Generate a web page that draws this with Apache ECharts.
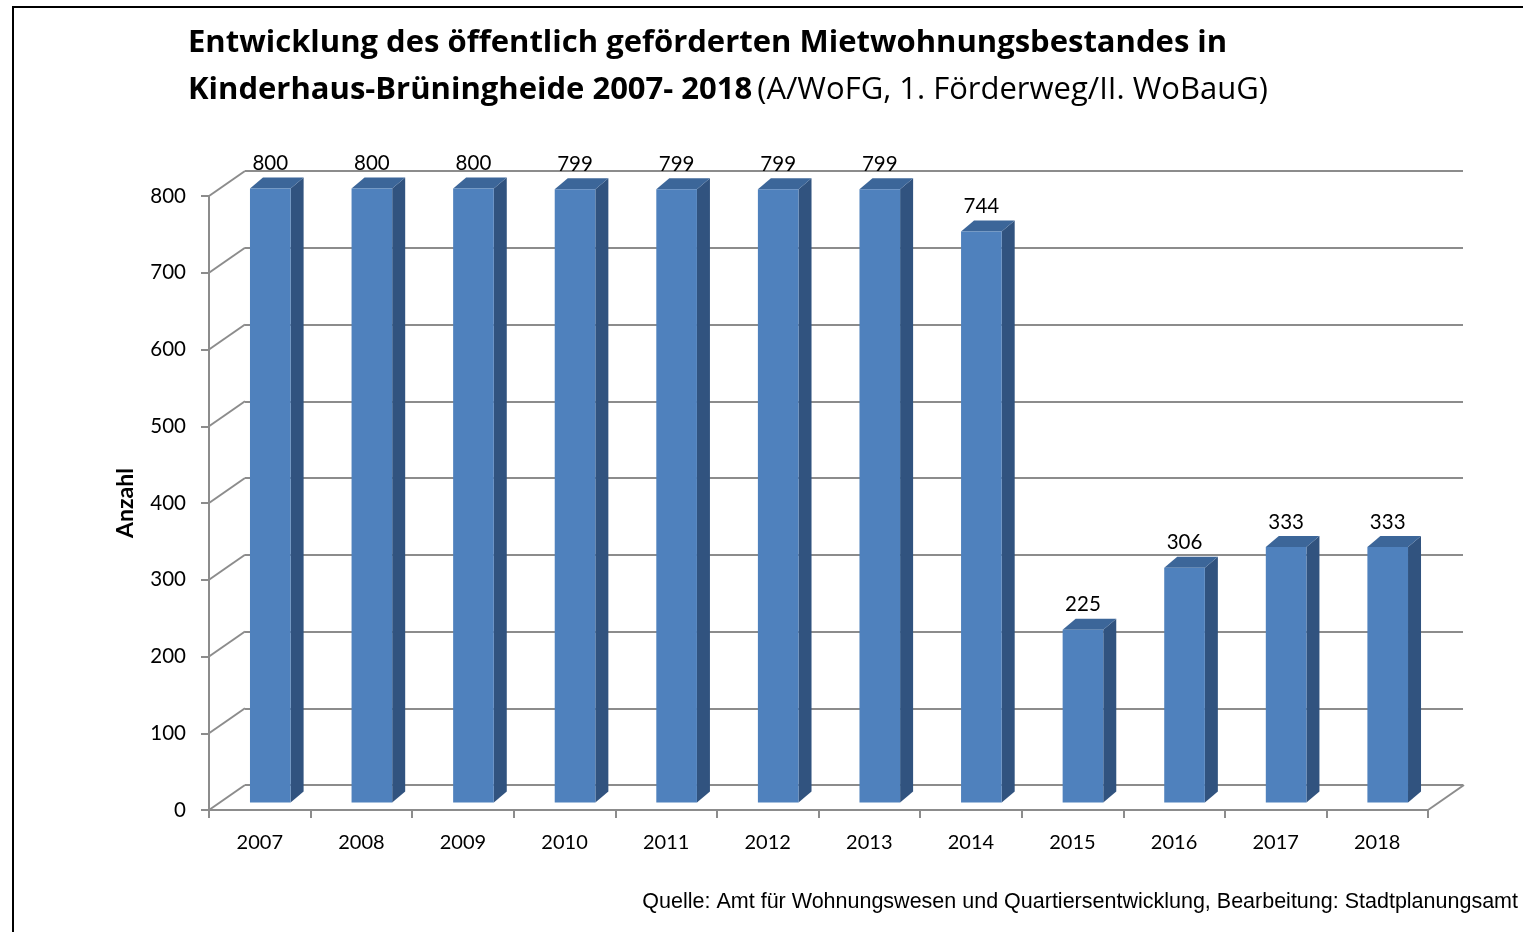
<!DOCTYPE html>
<html>
<head>
<meta charset="utf-8">
<script src="https://cdn.jsdelivr.net/npm/echarts@6/dist/echarts.min.js"></script>
<style>
html,body{margin:0;padding:0;background:#fff;}
#c{width:1523px;height:932px;}
</style>
</head>
<body>
<div id="c"></div>
<script>
const categories = ['2007','2008','2009','2010','2011','2012','2013','2014','2015','2016','2017','2018'];
const values = [800, 800, 800, 799, 799, 799, 799, 744, 225, 306, 333, 333];
const yMin = 0, yMax = 800, yStep = 100;
const gridTicks = [0, 100, 200, 300, 400, 500, 600, 700, 800];

const FONT = 'Lato';
const TITLE_FONT = 'Open Sans';
const GRID_COLOR = '#8c8c8c';
const DEPTH_X = 36, DEPTH_Y = -25;   // 3D depth of the back wall
const BAR_OX = 10.5, BAR_OY = -7.5;   // bar plane offset from front plane
const BAR_DX = 13, BAR_DY = -11;      // bar depth

const chart = echarts.init(document.getElementById('c'), null, {renderer: 'canvas'});

const option = {
  backgroundColor: '#fff',
  animation: false,
  title: [
    {
      text: 'Entwicklung des öffentlich geförderten Mietwohnungsbestandes in',
      left: 183, top: 23,
      textStyle: {fontFamily: TITLE_FONT, fontWeight: 'bold', fontSize: 31, color: '#000'}
    },
    {
      text: '{b|Kinderhaus-Brüningheide 2007- 2018} {n|(A/WoFG, 1. Förderweg/II. WoBauG)}',
      left: 183, top: 70,
      textStyle: {
        rich: {
          b: {fontFamily: TITLE_FONT, fontWeight: 'bold', fontSize: 31, color: '#000'},
          n: {fontFamily: TITLE_FONT, fontWeight: 'normal', fontSize: 31, color: '#000'}
        }
      }
    },
    {
      text: 'Quelle: Amt für Wohnungswesen und Quartiersentwicklung, Bearbeitung: Stadtplanungsamt',
      right: 0, top: 886,
      textStyle: {fontFamily: 'Liberation Sans', fontWeight: 'normal', fontSize: 21.5, color: '#000'}
    }
  ],
  graphic: [
    {type: 'rect', shape: {x: 13, y: 7, width: 1540, height: 960}, style: {fill: 'none', stroke: '#000', lineWidth: 2}, silent: true, z: 100}
  ],
  grid: [
    {left: 209, right: 95, top: 196, bottom: 122, containLabel: false},
    {left: 245, right: 60, top: 171, bottom: 147, containLabel: false}
  ],
  xAxis: [
    {
      type: 'category', gridIndex: 0, data: categories,
      axisLine: {show: true, lineStyle: {color: GRID_COLOR, width: 2}},
      axisTick: {show: true, alignWithLabel: false, length: 8, lineStyle: {color: GRID_COLOR, width: 2}},
      axisLabel: {fontFamily: FONT, fontSize: 20, color: '#000', margin: 23},
      splitLine: {show: false}
    },
    {
      type: 'category', gridIndex: 1, data: categories, show: false
    }
  ],
  yAxis: [
    {
      type: 'value', gridIndex: 0, min: yMin, max: yMax, interval: yStep,
      name: 'Anzahl', nameLocation: 'middle', nameGap: 72, nameRotate: 90,
      nameTextStyle: {fontFamily: FONT, fontWeight: 'bold', fontSize: 23, color: '#000'},
      axisLine: {show: true, lineStyle: {color: GRID_COLOR, width: 2}},
      axisTick: {show: true, length: 8, lineStyle: {color: GRID_COLOR, width: 2}},
      axisLabel: {fontFamily: FONT, fontSize: 20.5, color: '#000', margin: 23, padding: [3, 0, 0, 0]},
      splitLine: {show: false}
    },
    {
      type: 'value', gridIndex: 1, min: yMin, max: yMax, interval: yStep,
      axisLine: {show: false}, axisTick: {show: false}, axisLabel: {show: false},
      splitLine: {show: true, lineStyle: {color: GRID_COLOR, width: 2}}
    }
  ],
  series: [
    {
      // left wall / floor diagonals
      type: 'custom', xAxisIndex: 0, yAxisIndex: 0, silent: true, z: 1,
      data: gridTicks.map(v => [0, v]),
      renderItem: function (params, api) {
        const cs = params.coordSys;
        const p = api.coord([0, api.value(1)]);
        const children = [{
          type: 'line',
          shape: {x1: cs.x, y1: p[1], x2: cs.x + DEPTH_X, y2: p[1] + DEPTH_Y},
          style: {stroke: GRID_COLOR, lineWidth: 2}
        }];
        if (api.value(1) === yMin) {
          children.push({
            type: 'line',
            shape: {x1: cs.x + cs.width, y1: p[1], x2: cs.x + cs.width + DEPTH_X, y2: p[1] + DEPTH_Y},
            style: {stroke: GRID_COLOR, lineWidth: 2}
          });
        }
        return {type: 'group', children: children};
      }
    },
    {
      type: 'custom', xAxisIndex: 0, yAxisIndex: 0, z: 5,
      data: values.map((v, i) => [i, v]),
      renderItem: function (params, api) {
        const i = api.value(0), v = api.value(1);
        const top = api.coord([i, v]);
        const bot = api.coord([i, 0]);
        const w = api.size([1, 0])[0] * 0.4;
        const l = top[0] + BAR_OX - w / 2, r = l + w;
        const t = top[1] + BAR_OY, b = bot[1] + BAR_OY;
        return {
          type: 'group',
          children: [
            {type: 'polygon', shape: {points: [[r, t], [r + BAR_DX, t + BAR_DY], [r + BAR_DX, b + BAR_DY], [r, b]]},
             style: {fill: '#31537f'}},
            {type: 'polygon', shape: {points: [[l, t], [l + BAR_DX, t + BAR_DY], [r + BAR_DX, t + BAR_DY], [r, t]]},
             style: {fill: '#3c6699'}},
            {type: 'rect', shape: {x: l, y: t, width: w, height: b - t},
             style: {fill: '#4f81bd'}},
            {type: 'text', x: (l + r) / 2, y: t - 25,
             style: {text: String(v), fontFamily: FONT, fontSize: 20.5, fill: '#000', align: 'center', verticalAlign: 'middle'}}
          ]
        };
      }
    }
  ]
};
chart.setOption(option);
</script>
</body>
</html>
